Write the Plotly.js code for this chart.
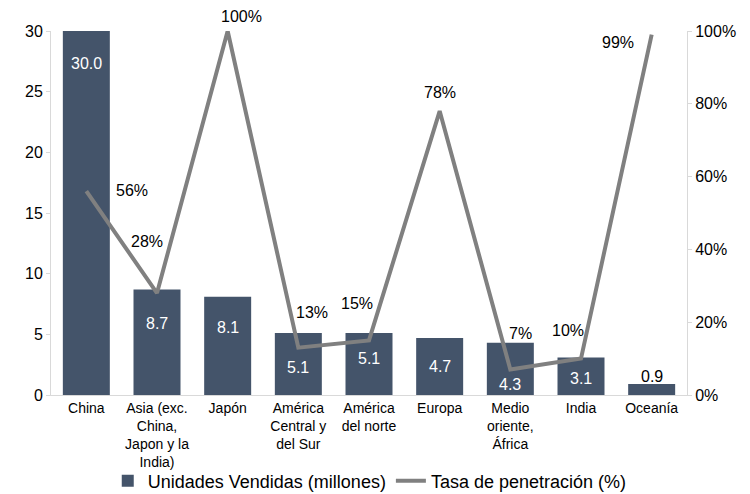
<!DOCTYPE html>
<html><head><meta charset="utf-8">
<script src="https://cdn.plot.ly/plotly-3.0.1.min.js"></script>
<style>body{margin:0;background:#fff}#c{width:750px;height:494px}</style>
</head><body><div id="c"></div>
<script>
var categories = ["China","Asia (exc.<br>China,<br>Japon y la<br>India)","Japón","América<br>Central y<br>del Sur","América<br>del norte","Europa","Medio<br>oriente,<br>África","India","Oceanía"];
var unidades = [30.0, 8.7, 8.1, 5.1, 5.1, 4.7, 4.3, 3.1, 0.9];
var tasa = [0.56, 0.28, 1.00, 0.13, 0.15, 0.78, 0.07, 0.10, 0.99];
var unidadesLabels = ["30.0","8.7","8.1","5.1","5.1","4.7","4.3","3.1","0.9"];
var tasaLabels = ["56%","28%","100%","13%","15%","78%","7%","10%","99%"];
var yTicks = [0,5,10,15,20,25,30];
var y2Ticks = [0,0.2,0.4,0.6,0.8,1.0];
var y2TickText = ["0%","20%","40%","60%","80%","100%"];

// label offsets (style)
var barShift = [-32,-34,-31,-34,-25,-29,-42,-21,8];
var barColor = ["#fff","#fff","#fff","#fff","#fff","#fff","#fff","#fff","#000"];
var lineX = [46,-10,14,14,-12,0,10,-13,-34];
var lineY = [1,52,15,35,37,19,36,28,-8];

var traces = [
 {type:'bar', x:categories, y:unidades, name:'Unidades Vendidas (millones)',
  marker:{color:'#44546A'}, hoverinfo:'y'},
 {type:'scatter', mode:'lines', x:categories, y:tasa, yaxis:'y2',
  name:'Tasa de penetración (%)', line:{color:'#808080', width:4}}
];
var ann = [];
for (var i=0;i<categories.length;i++){
  ann.push({x:categories[i], y:unidades[i], xref:'x', yref:'y', text:unidadesLabels[i],
    showarrow:false, yshift:barShift[i], font:{size:16,color:barColor[i]}});
  ann.push({x:categories[i], y:tasa[i], xref:'x', yref:'y2', text:tasaLabels[i],
    showarrow:false, xshift:lineX[i], yshift:lineY[i], font:{size:16,color:'#000'}});
}
var layout = {
  width:750, height:494,
  margin:{l:51, r:63, t:31, b:99},
  paper_bgcolor:'#fff', plot_bgcolor:'#fff',
  font:{family:'Arial, "Liberation Sans", sans-serif', color:'#000'},
  bargap:0.335,
  showlegend:true,
  legend:{orientation:'h', x:0.493, xref:'container', xanchor:'center', y:0.026, yref:'container', yanchor:'middle',
    bgcolor:'rgba(0,0,0,0)', font:{size:18}, traceorder:'normal', itemwidth:30},
  xaxis:{showline:true, linecolor:'#d9d9d9', linewidth:1, ticks:'', showgrid:false,
    tickfont:{size:14}, automargin:false, fixedrange:true},
  yaxis:{range:[0,30], tickvals:yTicks, showline:true, linecolor:'#d9d9d9', ticks:'outside',
    ticklen:4, tickcolor:'#d9d9d9', showgrid:false, zeroline:false, tickfont:{size:16}, automargin:false},
  yaxis2:{range:[0,1], overlaying:'y', side:'right', tickvals:y2Ticks, ticktext:y2TickText,
    showline:true, linecolor:'#d9d9d9', ticks:'outside', ticklen:4, tickcolor:'#d9d9d9',
    showgrid:false, zeroline:false, tickfont:{size:16}, automargin:false},
  annotations:ann
};
Plotly.newPlot('c', traces, layout, {displayModeBar:false, staticPlot:true});
</script></body></html>
